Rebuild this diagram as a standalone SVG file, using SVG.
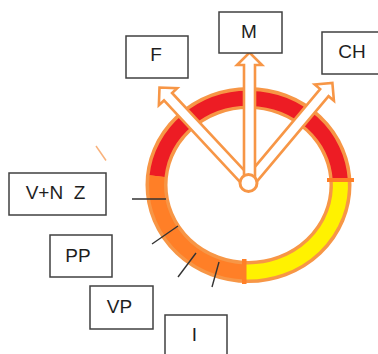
<svg xmlns="http://www.w3.org/2000/svg" width="378" height="354" viewBox="0 0 378 354">
  <style>
    .box rect { fill: #fff; stroke: #404040; stroke-width: 1.5; }
    .box text { font-family: "Liberation Sans", Arial, sans-serif; font-size: 19px; fill: #1e1e1e; text-anchor: middle; }
    .seg { fill: none; stroke-width: 15; stroke-linecap: butt; }
    .tick { stroke: #333; stroke-width: 1.4; }
    .arrow { fill: #fff; stroke: #F79646; stroke-width: 2.6; stroke-linejoin: miter; }
  </style>
  <defs>
    <!-- hollow block arrow pointing up, base at origin -->
    <polygon id="blockArrow" points="-5.5,-6 -5.5,-118 -12.5,-118 0,-130.5 12.5,-118 5.5,-118 5.5,-6"/>
  </defs>

  <!-- ring -->
  <g id="ring">
    <ellipse cx="248.5" cy="185" rx="92" ry="87" fill="none" stroke="#F79646" stroke-width="22"/>
    <path class="seg" stroke="#ED1C24" d="M157,176.1 A92,87 0 0 1 340.3,180"/>
    <path class="seg" stroke="#FF7F27" d="M244,271.9 A92,87 0 0 1 157,176.1"/>
    <path class="seg" stroke="#FFF200" d="M340.3,180 A92,87 0 0 1 244,271.9"/>
    <rect x="327" y="178" width="27" height="4" fill="#FF7F27"/>
    <rect x="242" y="259" width="4.5" height="25" fill="#FF7F27"/>
  </g>

  <!-- connectors -->
  <g id="connectors">
    <use href="#blockArrow" class="arrow" transform="translate(248.5,183) rotate(-43)"/>
    <use href="#blockArrow" class="arrow" transform="translate(248.5,183) rotate(40)"/>
    <use href="#blockArrow" class="arrow" transform="translate(249.5,183)"/>
    <circle cx="248.5" cy="183" r="8.5" fill="#fff" stroke="#F79646" stroke-width="3"/>
    <line class="tick" x1="132" y1="199" x2="166" y2="199"/>
    <line class="tick" x1="152" y1="244" x2="178" y2="226"/>
    <line class="tick" x1="178" y1="277" x2="196" y2="253"/>
    <line class="tick" x1="212" y1="287" x2="219" y2="262"/>
    <line x1="96" y1="146" x2="106" y2="160.5" stroke="#F9B27C" stroke-width="1.5"/>
  </g>

  <!-- nodes -->
  <g id="node-F" class="box">
    <rect x="126" y="36" width="62" height="42"/>
    <text x="156" y="61">F</text>
  </g>
  <g id="node-M" class="box">
    <rect x="219" y="12" width="63" height="41"/>
    <text x="249" y="38">M</text>
  </g>
  <g id="node-CH" class="box">
    <rect x="322" y="32" width="62" height="42"/>
    <text x="352" y="58">CH</text>
  </g>
  <g id="node-VNZ" class="box">
    <rect x="9" y="173" width="97" height="42"/>
    <text x="55.5" y="199" xml:space="preserve">V+N  Z</text>
  </g>
  <g id="node-PP" class="box">
    <rect x="50" y="235" width="62" height="42"/>
    <text x="78" y="262">PP</text>
  </g>
  <g id="node-VP" class="box">
    <rect x="90" y="286" width="63" height="43"/>
    <text x="119.5" y="313">VP</text>
  </g>
  <g id="node-I" class="box">
    <rect x="165" y="315" width="62" height="45"/>
    <text x="194.5" y="341">I</text>
  </g>
</svg>
